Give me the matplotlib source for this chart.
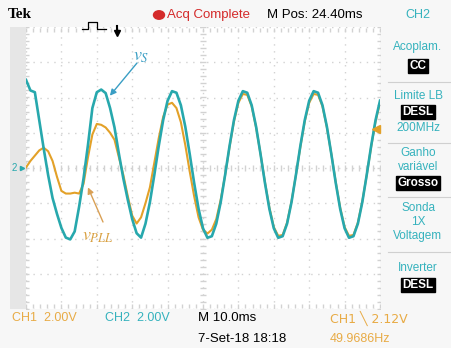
import numpy as np
import matplotlib
matplotlib.use("Agg")
import matplotlib.pyplot as plt
from matplotlib.lines import Line2D
from matplotlib.patches import Rectangle, Circle

# time base: 10 ms/div, 10 divisions; samples read every 1.25 ms
t_ms = np.arange(0, 100.01, 1.25)

# CH2 (cyan) - grid voltage v_S, volts
v_s = [5.0, 4.4, 4.3, 2.7, 1.1, -0.4, -1.7, -2.6, -3.4, -3.95, -4.05, -3.6, -2.2, -0.6, 1.3, 3.4,
       4.3, 4.45, 4.25, 3.4, 2.3, 0.8, -0.6, -1.8, -2.9, -3.7, -3.95,
       -3.16, -1.94, -0.39, 1.25, 2.72, 3.82, 4.36, 4.27,
       3.56, 2.34, 0.79, -0.85, -2.32, -3.42, -3.96, -3.87, -3.16, -1.94, -0.39, 1.25, 2.72, 3.82, 4.36, 4.27,
       3.56, 2.34, 0.79, -0.85, -2.32, -3.42, -3.96, -3.87, -3.16, -1.94, -0.39, 1.25, 2.72, 3.82, 4.36, 4.27,
       3.56, 2.34, 0.79, -0.85, -2.32, -3.42, -3.96, -3.87, -3.16, -1.94, -0.39, 1.25, 2.72, 3.82]

# CH1 (orange) - PLL output v_PLL, volts
v_pll = [0.03, 0.4, 0.7, 1.0, 1.15, 0.95, 0.4, -0.5, -1.3, -1.45, -1.45, -1.4, -1.45, -0.9, 0.6, 1.9,
         2.5, 2.45, 2.3, 2.0, 1.6, 0.6, -0.4, -1.6, -2.7, -3.15, -2.8, -2.0, -1.1, 0.3, 1.7, 2.9,
         3.6, 3.7, 3.4, 2.6, 1.3, -0.2, -1.6, -2.8, -3.5, -3.72, -3.5, -2.9, -1.8, -0.4,
         1.2, 2.65, 3.7, 4.2, 4.15, 3.5, 2.3, 0.8, -0.8, -2.25, -3.35, -3.85, -3.8, -3.1, -1.9, -0.4,
         1.2, 2.65, 3.7, 4.2, 4.15, 3.5, 2.3, 0.8, -0.8, -2.25, -3.35, -3.85, -3.8, -3.1, -1.9, -0.4,
         1.2, 2.65, 3.7]

CYAN = "#27a8ad"
ORANGE = "#e3a128"
CYAN_TXT = "#35b2bd"
ORANGE_TXT = "#e8ab45"

W, H = 451, 348
SANS = ["Liberation Sans Narrow", "Liberation Sans", "DejaVu Sans"]


def fx(x):
    return x / W


def fy(y):
    return 1 - y / H


fig = plt.figure(figsize=(W / 100, H / 100), dpi=100, facecolor="#f7f7f7")

# left gray strip
fig.add_artist(Rectangle((fx(10), fy(309)), fx(16), 282 / H, transform=fig.transFigure,
                         color="#e6e6e6", lw=0))

ax = fig.add_axes([fx(26), fy(309), fx(380 - 26), (309 - 27) / H])
ax.set_facecolor("white")
ax.set_xlim(0, 100)
ax.set_ylim(-8, 8)
ax.set_xticks([])
ax.set_yticks([])
for s in ax.spines.values():
    s.set_visible(False)

# graticule
grid_c = "#d2d2d2"
for x in np.arange(0, 101, 10):
    ax.axvline(x, color=grid_c, lw=1, ls=(0, (1, 4)), zorder=0)
for y in np.arange(-8, 8.1, 2):
    ax.axhline(y, color=grid_c, lw=1, ls=(0, (1, 4)), zorder=0)
ax.plot(np.arange(0, 100.1, 2), np.zeros(51), ls="none", marker="|", ms=4, color=grid_c, zorder=0)
ax.plot(np.full(41, 50), np.arange(-8, 8.01, 0.4), ls="none", marker="_", ms=4, color=grid_c, zorder=0)
ax.plot(np.full(41, 0.4), np.arange(-8, 8.01, 0.4), ls="none", marker="_", ms=3, color=grid_c, zorder=0)
ax.plot(np.full(41, 99.6), np.arange(-8, 8.01, 0.4), ls="none", marker="_", ms=3, color=grid_c, zorder=0)
ax.plot(np.arange(0, 100.1, 2), np.full(51, 7.85), ls="none", marker="|", ms=3, color=grid_c, zorder=0)
ax.plot(np.arange(0, 100.1, 2), np.full(51, -7.85), ls="none", marker="|", ms=3, color=grid_c, zorder=0)

# traces
ax.plot(t_ms, v_pll, color=ORANGE, lw=1.5, zorder=3)
ax.plot(t_ms, v_s, color=CYAN, lw=1.9, zorder=4)

# labels with arrows
ax.annotate("", xy=(23.7, 4.1), xytext=(fx(137), fy(63)), textcoords="figure fraction",
            arrowprops=dict(arrowstyle="-|>", color="#3a9ec4", lw=1, shrinkA=0, shrinkB=0,
                            mutation_scale=9), zorder=5)
fig.text(fx(133), fy(56), r"$v_S$", color="#3a9ec4", fontsize=13, va="center",
         math_fontfamily="stix")
ax.annotate("", xy=(17.5, -1.1), xytext=(fx(103), fy(222)), textcoords="figure fraction",
            arrowprops=dict(arrowstyle="-|>", color="#d9a055", lw=1, shrinkA=0, shrinkB=0,
                            mutation_scale=9), zorder=5)
fig.text(fx(82), fy(236), r"$v_{PLL}$", color="#d9a040", fontsize=13, va="center",
         math_fontfamily="stix")

# channel / trigger markers
fig.text(fx(12), fy(168), "2", color=CYAN, fontsize=7, va="center", family=SANS)
fig.add_artist(Line2D([fx(22)], [fy(168)], marker=">", ms=3, color=CYAN, transform=fig.transFigure))
fig.add_artist(Line2D([fx(376)], [fy(129)], marker="<", ms=6, color=ORANGE, transform=fig.transFigure))
fig.add_artist(Line2D([fx(117), fx(117)], [fy(26), fy(32)], lw=1.5, color="black", transform=fig.transFigure))
fig.add_artist(Line2D([fx(117)], [fy(33)], marker="v", ms=5, color="black", transform=fig.transFigure))

# top bar
fig.text(fx(8), fy(14), "Tek", fontsize=11, fontweight="bold", family="Liberation Serif", va="center")
fig.add_artist(Line2D([fx(82), fx(88), fx(88), fx(97), fx(97), fx(106)],
                      [fy(29), fy(29), fy(22), fy(22), fy(29), fy(29)],
                      lw=0.9, color="black", transform=fig.transFigure))
fig.add_artist(Circle((fx(159), fy(15)), 5.5 / W, transform=fig.transFigure, color="#d42a2a"))
fig.text(fx(167), fy(15), "Acq Complete", color="#d42a2a", fontsize=9.5, va="center", family=SANS)
fig.text(fx(267), fy(15), "M Pos: 24.40ms", color="black", fontsize=9.5, va="center", family=SANS)
fig.text(fx(418), fy(15), "CH2", color=CYAN_TXT, fontsize=9, va="center", ha="center", family=SANS)

# bottom readouts
fig.text(fx(12), fy(318), "CH1  2.00V", color=ORANGE_TXT, fontsize=9, va="center", family=SANS)
fig.text(fx(105), fy(318), "CH2  2.00V", color=CYAN_TXT, fontsize=9, va="center", family=SANS)
fig.text(fx(198), fy(318), "M 10.0ms", color="black", fontsize=9.5, va="center", family=SANS)
fig.text(fx(198), fy(339), "7-Set-18 18:18", color="black", fontsize=9.5, va="center", family=SANS)
fig.text(fx(330), fy(318), "CH1 \u2572 2.12V", color=ORANGE_TXT, fontsize=9, va="center",
         family=["Liberation Sans Narrow", "DejaVu Sans"])
fig.text(fx(330), fy(339), "49.9686Hz", color=ORANGE_TXT, fontsize=9, va="center", family=SANS)

# side menu
cx = 418
for y in [82, 143, 197, 252]:
    fig.add_artist(Line2D([fx(388), fx(451)], [fy(y), fy(y)], lw=0.8, color="#d0d0d0",
                          transform=fig.transFigure))


def menu_text(y, s):
    fig.text(fx(cx), fy(y), s, color=CYAN_TXT, fontsize=8.5, ha="center", va="center", family=SANS)


def menu_box(y, s):
    fig.text(fx(cx), fy(y), s, color="white", fontsize=8.5, ha="center", va="center", family=SANS,
             fontweight="bold",
             bbox=dict(boxstyle="square,pad=0.12", fc="black", ec="black"))


menu_text(47, "Acoplam.")
menu_box(66, "CC")
menu_text(96, "Limite LB")
menu_box(112, "DESL")
menu_text(128, "200MHz")
menu_text(153, "Ganho")
menu_text(167, "variável")
menu_box(183, "Grosso")
menu_text(208, "Sonda")
menu_text(222, "1X")
menu_text(236, "Voltagem")
menu_text(268, "Inverter")
menu_box(285, "DESL")

fig.savefig("out.png", dpi=100, facecolor=fig.get_facecolor())
